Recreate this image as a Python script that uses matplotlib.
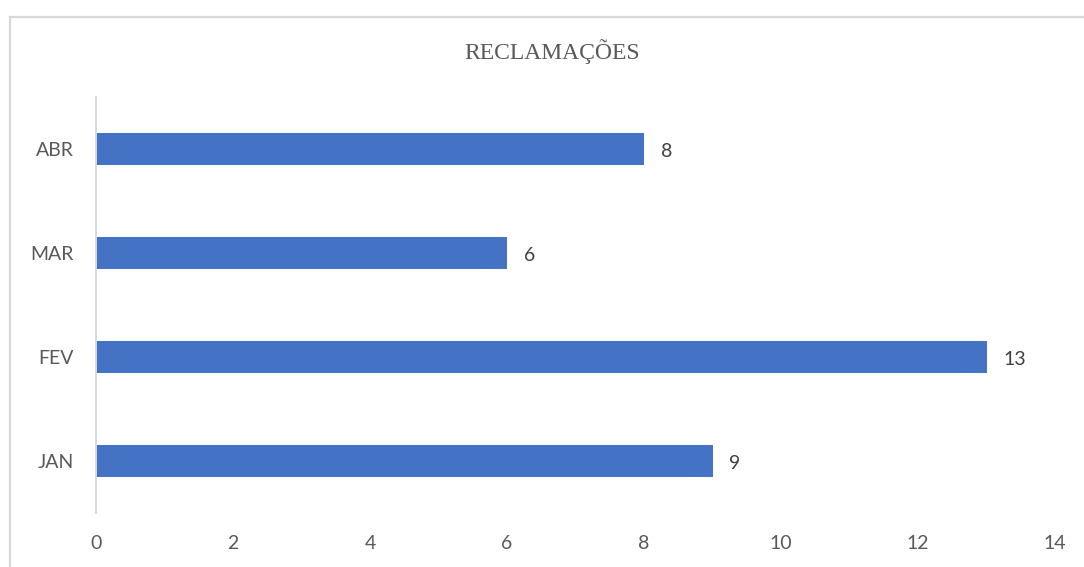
import matplotlib
matplotlib.use("Agg")
import matplotlib.pyplot as plt
from matplotlib.lines import Line2D

categories = ["JAN", "FEV", "MAR", "ABR"]
values = [9, 13, 6, 8]
xticks = [0, 2, 4, 6, 8, 10, 12, 14]
title = "RECLAMAÇÕES"

W, H = 1084, 567
fig = plt.figure(figsize=(W / 100, H / 100), dpi=100)
fig.patch.set_facecolor("white")

ax = fig.add_axes([96 / W, 54 / H, 959 / W, 416 / H])
bars = ax.barh(range(len(categories)), values, height=0.31, color="#4472C4")
ax.set_xlim(0, 14)
ax.set_ylim(-0.5, len(categories) - 0.5)
ax.set_xticks(xticks)
ax.set_yticks(range(len(categories)))
ax.set_yticklabels(categories)

for s in ["top", "right", "bottom"]:
    ax.spines[s].set_visible(False)
ax.spines["left"].set_color("#d9d9d9")
ax.spines["left"].set_linewidth(1.4)

ax.tick_params(axis="both", length=0, labelsize=14, labelcolor="#595959")
ax.tick_params(axis="x", pad=16)
ax.tick_params(axis="y", pad=16)
for lab in ax.get_xticklabels() + ax.get_yticklabels():
    lab.set_fontfamily(["Lato", "DejaVu Sans"])

for b, v in zip(bars, values):
    ax.annotate(str(v), xy=(v, b.get_y() + b.get_height() / 2),
                xytext=(12, -2), textcoords="offset points",
                ha="left", va="center", fontsize=14, color="#404040",
                family=["Lato", "DejaVu Sans"])

fig.text(552 / W, 1 - 52 / H, title, ha="center", va="center",
         fontsize=17, color="#595959", family=["Liberation Serif", "DejaVu Serif"])

# outer chart border (extends beyond image at right/bottom)
bx = 10 / W
by = 1 - 17 / H
fig.add_artist(Line2D([bx, bx], [0, by], transform=fig.transFigure,
                      color="#d9d9d9", linewidth=1.6))
fig.add_artist(Line2D([bx, 1], [by, by], transform=fig.transFigure,
                      color="#d9d9d9", linewidth=1.6))

fig.savefig("out.png", dpi=100)
